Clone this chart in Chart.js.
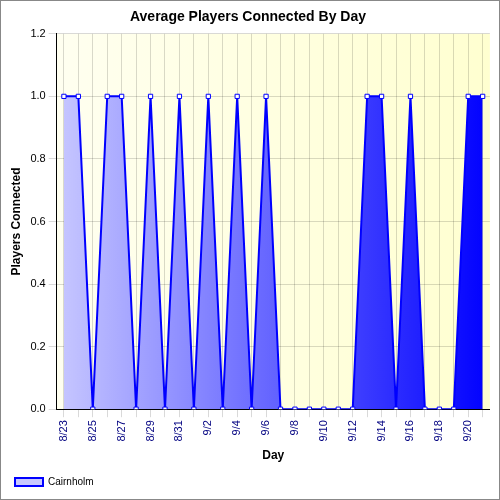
<!DOCTYPE html>
<html><head><script src="https://cdn.jsdelivr.net/npm/chart.js"></script>
<style>body{margin:0;background:#fff}#w{width:500px;height:500px;position:relative;border:1px solid #888;box-sizing:border-box}canvas{display:block}</style></head>
<body><div id="w"><canvas id="c" width="498" height="498"></canvas></div>
<script>
const labels=["8/23","8/24","8/25","8/26","8/27","8/28","8/29","8/30","8/31","9/1","9/2","9/3","9/4","9/5","9/6","9/7","9/8","9/9","9/10","9/11","9/12","9/13","9/14","9/15","9/16","9/17","9/18","9/19","9/20","9/21"];
const values=[1,1,0,1,1,0,1,0,1,0,1,0,1,0,1,0,0,0,0,0,0,1,1,0,1,0,0,0,1,1];
const bg={id:'bg',beforeDraw(ch){const a=ch.chartArea,x=ch.ctx;const g=x.createLinearGradient(a.left,0,a.right,0);g.addColorStop(0,'#fffff0');g.addColorStop(1,'#ffffd0');x.save();x.fillStyle=g;x.fillRect(a.left,a.top,a.right-a.left,a.bottom-a.top);x.restore();}};
new Chart(document.getElementById('c'),{type:'line',data:{labels,datasets:[{label:'Cairnholm',data:values,borderColor:'#0000ff',borderWidth:2,pointStyle:'rect',pointRadius:3,pointBackgroundColor:'#fff',pointBorderColor:'#0000ff',pointBorderWidth:1,tension:0,fill:'origin',
backgroundColor:(c)=>{const a=c.chart.chartArea;if(!a)return'#88f';const g=c.chart.ctx.createLinearGradient(a.left,0,a.right,0);g.addColorStop(0,'#c8c8ff');g.addColorStop(1,'#0000ff');return g;}}]},
options:{responsive:false,animation:false,layout:{padding:{left:4,right:8,top:4,bottom:2}},
plugins:{title:{display:true,text:'Average Players Connected By Day',font:{family:'Liberation Sans',size:14,weight:'bold'},color:'#000',padding:{top:4,bottom:8}},
legend:{position:'bottom',align:'start',labels:{font:{family:'Liberation Sans',size:10},color:'#000',boxWidth:28,boxHeight:8}}},
scales:{x:{offset:true,grid:{color:'rgba(0,0,0,0.15)',borderDash:[1,3],drawTicks:true},title:{display:true,text:'Day',font:{family:'Liberation Sans',size:12,weight:'bold'},color:'#000'},
ticks:{autoSkip:false,maxRotation:90,minRotation:90,color:'#000080',font:{family:'Liberation Sans',size:11},callback:function(v,i){return i%2===0?labels[i]:'';}},border:{color:'#000'}},
y:{min:0,max:1.2,ticks:{stepSize:0.2,color:'#000',font:{family:'Liberation Sans',size:11},callback:v=>v.toFixed(1)},grid:{color:'rgba(0,0,0,0.15)'},border:{color:'#000'},
title:{display:true,text:'Players Connected',font:{family:'Liberation Sans',size:12,weight:'bold'},color:'#000'}}}},plugins:[bg]});
</script></body></html>
